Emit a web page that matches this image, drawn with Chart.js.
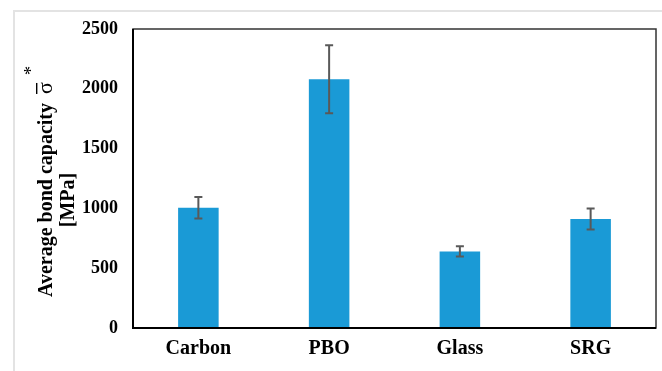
<!DOCTYPE html>
<html>
<head>
<meta charset="utf-8">
<script src="https://cdn.jsdelivr.net/npm/chart.js@4.4.1/dist/chart.umd.min.js"></script>
<style>
html,body{margin:0;padding:0;background:#fff;}
#wrap{width:662px;height:371px;position:relative;}
</style>
</head>
<body>
<div id="wrap"><canvas id="c" width="662" height="371"></canvas></div>
<script>
const categories = ["Carbon", "PBO", "Glass", "SRG"];
const meanValues = [1005, 2080, 640, 912];
const errorValues = [90, 285, 43, 88];
const yTicks = [0, 500, 1000, 1500, 2000, 2500];
const yTitleLine1 = "Average bond capacity";
const yTitleLine2 = "[MPa]";

const BAR_COLOR = "#1a9ad6";
const SERIF = "'Liberation Serif', 'Times New Roman', serif";

const framePlugin = {
  id: "frame",
  beforeDraw(chart) {
    const ctx = chart.ctx;
    ctx.save();
    ctx.strokeStyle = "#e3e3e3";
    ctx.lineWidth = 2;
    ctx.beginPath();
    ctx.moveTo(14, 371);
    ctx.lineTo(14, 11);
    ctx.lineTo(662, 11);
    ctx.stroke();
    ctx.restore();
  },
  afterDraw(chart) {
    const ctx = chart.ctx;
    const a = chart.chartArea;
    ctx.save();
    ctx.strokeStyle = "#333";
    ctx.lineWidth = 1.5;
    ctx.strokeRect(a.left, a.top, a.right - a.left, a.bottom - a.top);
    ctx.strokeStyle = "#000";
    ctx.lineWidth = 2;
    ctx.beginPath();
    ctx.moveTo(a.left, a.top);
    ctx.lineTo(a.left, a.bottom);
    ctx.lineTo(a.right, a.bottom);
    ctx.stroke();

    // error bars
    const meta = chart.getDatasetMeta(0);
    const ys = chart.scales.y;
    ctx.strokeStyle = "#595959";
    ctx.lineWidth = 2;
    meta.data.forEach((bar, i) => {
      const x = bar.x;
      const yTop = ys.getPixelForValue(meanValues[i] + errorValues[i]);
      const yBot = ys.getPixelForValue(meanValues[i] - errorValues[i]);
      ctx.beginPath();
      ctx.moveTo(x, yTop); ctx.lineTo(x, yBot);
      ctx.moveTo(x - 4, yTop); ctx.lineTo(x + 4, yTop);
      ctx.moveTo(x - 4, yBot); ctx.lineTo(x + 4, yBot);
      ctx.stroke();
    });

    // y axis title
    ctx.fillStyle = "#000";
    ctx.save();
    ctx.translate(52, 200);
    ctx.rotate(-Math.PI / 2);
    ctx.font = "bold 20px " + SERIF;
    ctx.textAlign = "center";
    ctx.textBaseline = "alphabetic";
    ctx.fillText(yTitleLine1, 0, 0);
    const w = ctx.measureText(yTitleLine1).width;
    // sigma with overline and asterisk
    ctx.font = "22px " + SERIF;
    ctx.textAlign = "left";
    const sx = w / 2 + 9;
    ctx.fillText("\u03C3", sx, 0);
    ctx.fillRect(sx, -16, 11, 1.4);
    ctx.font = "18px " + SERIF;
    ctx.fillText("*", sx + 19, -15);
    ctx.restore();

    ctx.save();
    ctx.translate(74, 200);
    ctx.rotate(-Math.PI / 2);
    ctx.font = "bold 20px " + SERIF;
    ctx.textAlign = "center";
    ctx.fillText(yTitleLine2, 0, 0);
    ctx.restore();
    ctx.restore();
  }
};

new Chart(document.getElementById("c"), {
  type: "bar",
  data: {
    labels: categories,
    datasets: [{
      data: meanValues,
      backgroundColor: BAR_COLOR,
      borderWidth: 0,
      barPercentage: 0.31,
      categoryPercentage: 1.0
    }]
  },
  options: {
    responsive: false,
    animation: false,
    devicePixelRatio: 1,
    layout: { padding: { left: 0, right: 6, top: 29, bottom: 0 } },
    plugins: { legend: { display: false }, tooltip: { enabled: false } },
    scales: {
      x: {
        grid: { display: false, drawTicks: false },
        border: { display: false },
        ticks: { color: "#000", font: { family: SERIF, size: 20, weight: "bold" }, padding: 9 },
        afterFit(s) { s.height = 43; }
      },
      y: {
        min: 0, max: 2500,
        grid: { display: false, drawTicks: false },
        border: { display: false },
        afterBuildTicks(s) { s.ticks = yTicks.map(v => ({ value: v })); },
        ticks: {
          color: "#000",
          font: { family: SERIF, size: 18, weight: "bold" },
          padding: 15,
          callback: (v) => String(v)
        },
        afterFit(s) { s.width = 133; }
      }
    }
  },
  plugins: [framePlugin]
});
</script>
</body>
</html>
